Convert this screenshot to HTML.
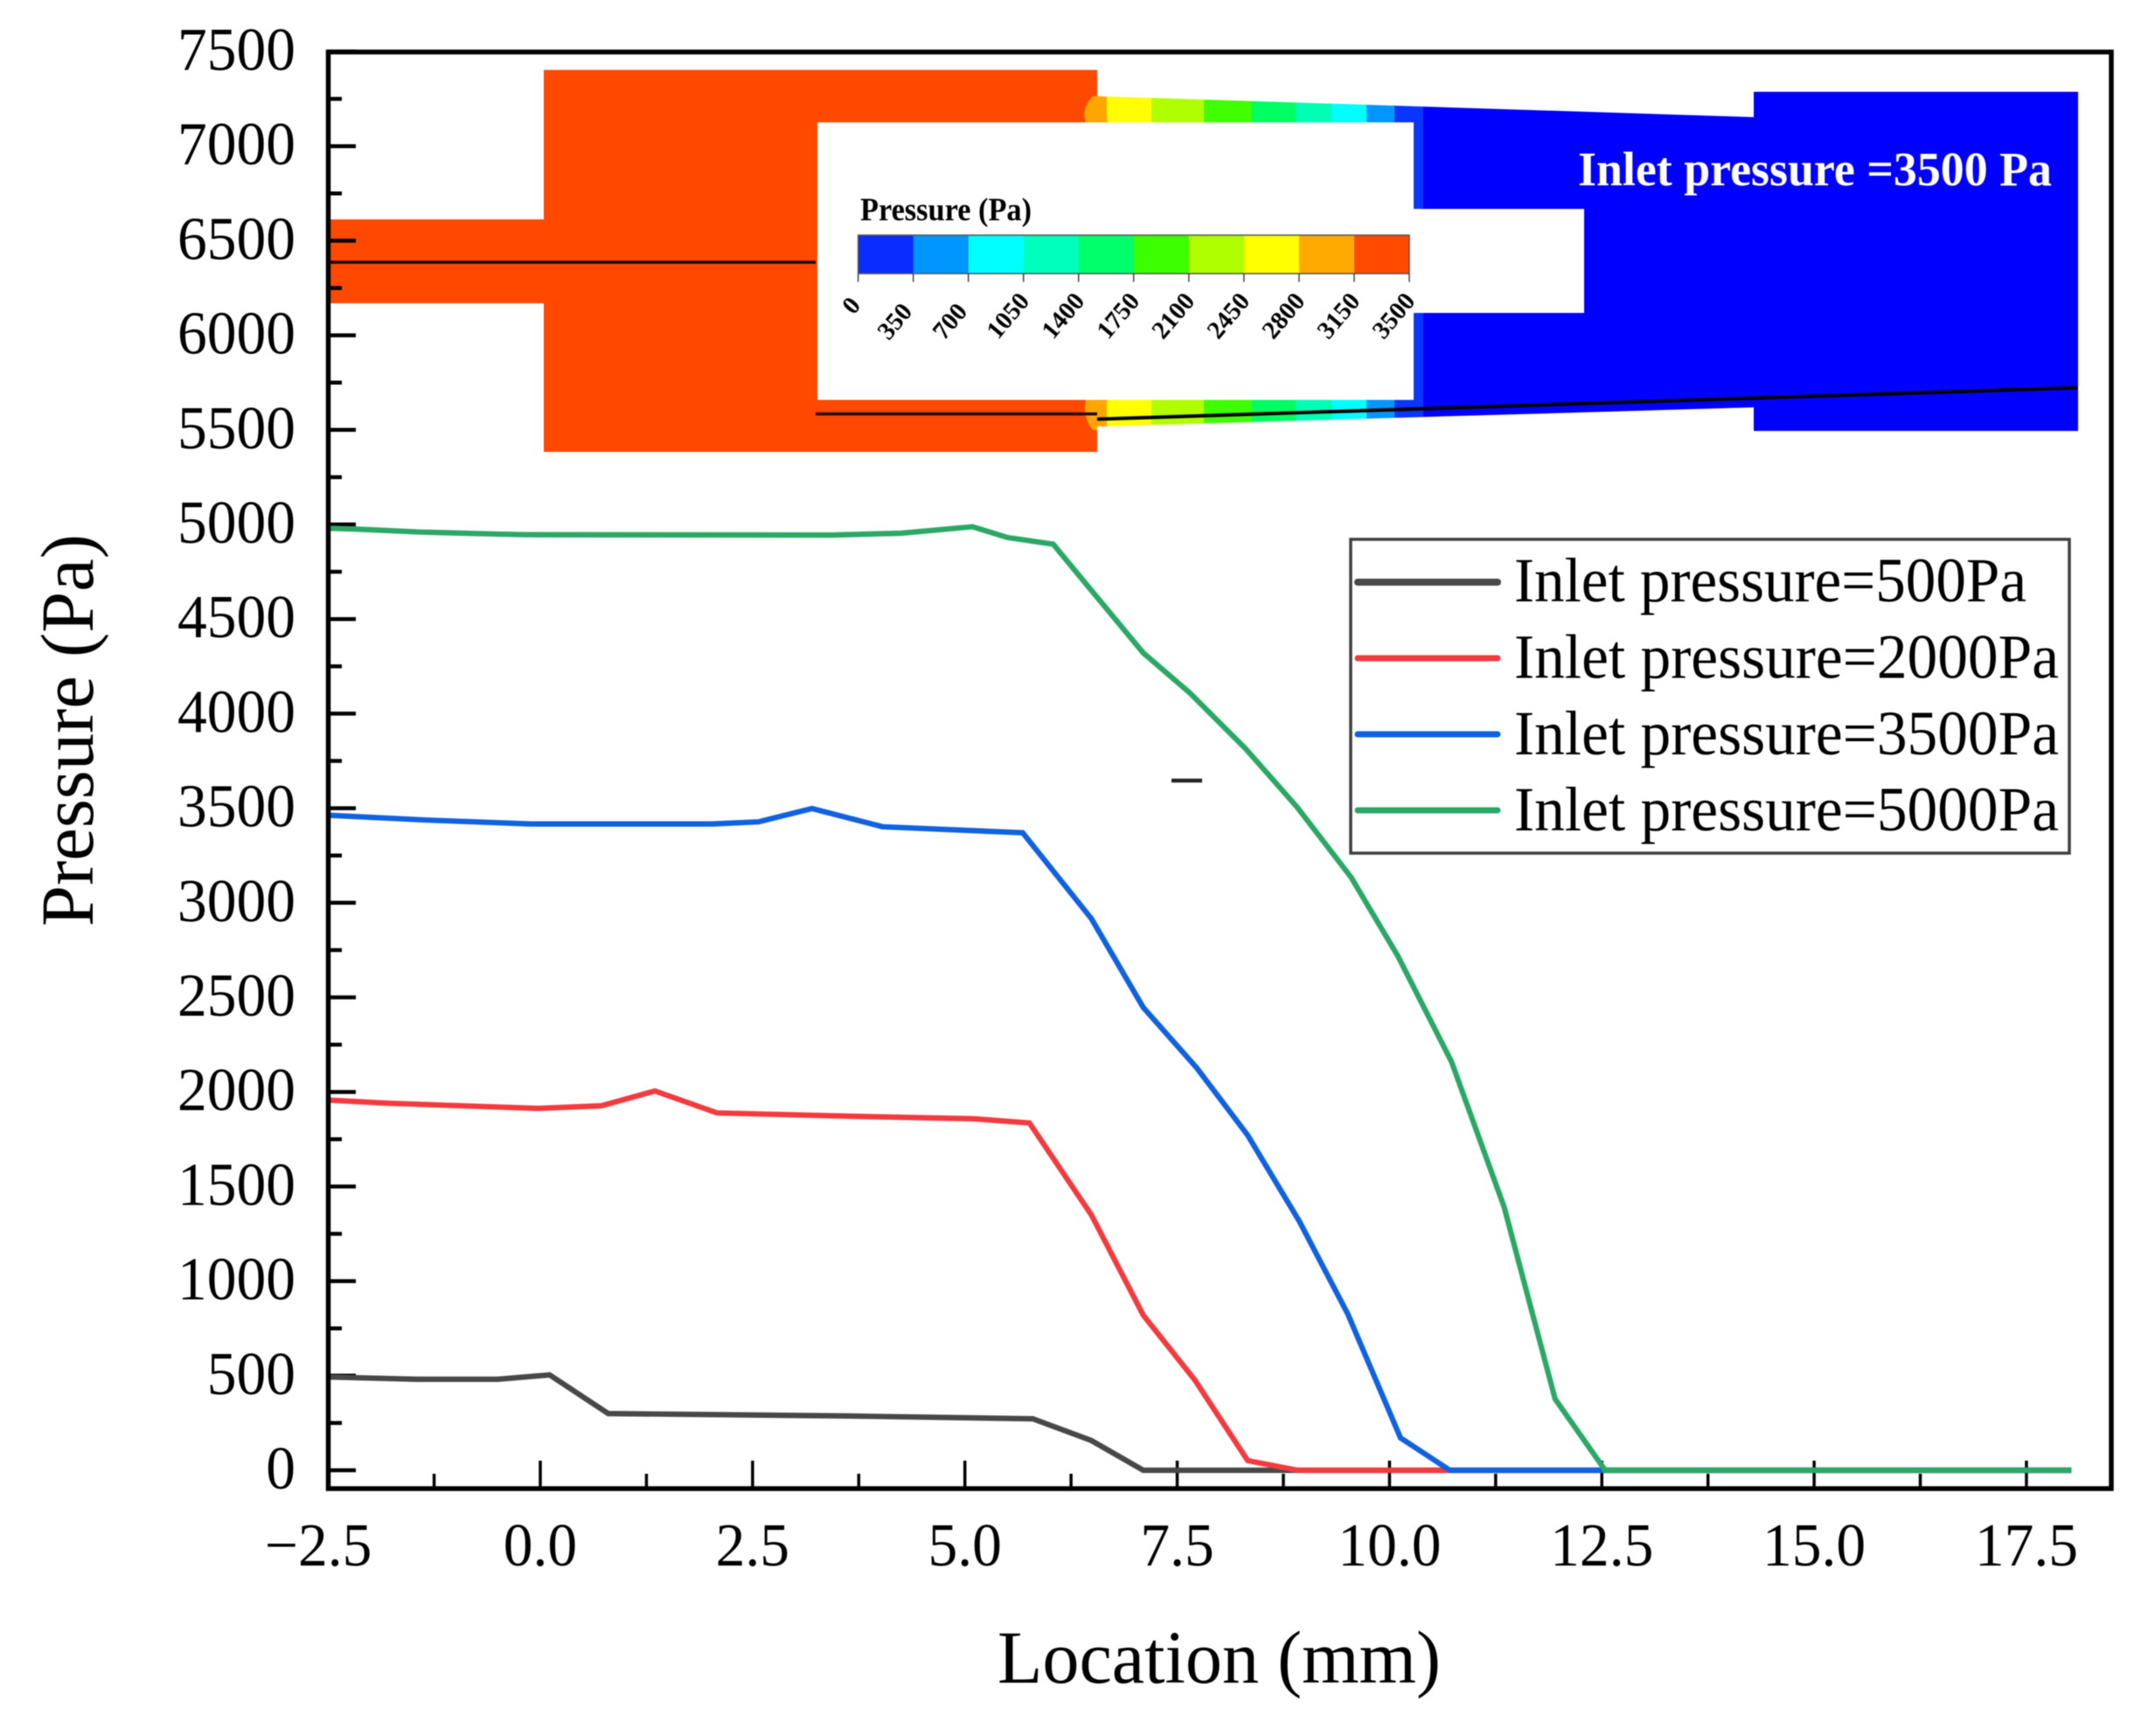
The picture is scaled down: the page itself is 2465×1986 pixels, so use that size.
<!DOCTYPE html>
<html lang="en">
<head>
<meta charset="utf-8">
<title>Pressure vs Location</title>
<style>
html,body{margin:0;padding:0;background:#fff}
svg{display:block}
text{font-family:"Liberation Serif",serif;fill:#000}
</style>
</head>
<body>
<svg id="chart" xmlns="http://www.w3.org/2000/svg" width="2465" height="1986" viewBox="0 0 2465 1986">
<defs>
<clipPath id="channel-clip"><polygon points="1254,110 2006,134 2006,466 1254,488"/></clipPath>
</defs>
<rect x="0" y="0" width="2465" height="1986" fill="#fff"/>
<g id="root" style="filter:blur(.6px)">
<g id="contour-inset">
<rect x="377" y="251" width="246" height="96" fill="#ff4800"/>
<rect x="622" y="80" width="633" height="437" fill="#ff4800"/>
<g clip-path="url(#channel-clip)">
<rect x="1254" y="100" width="14" height="400" fill="#ffa500"/>
<rect x="1266" y="100" width="52" height="400" fill="#ffff00"/>
<rect x="1317" y="100" width="61" height="400" fill="#b0ff00"/>
<rect x="1377" y="100" width="56" height="400" fill="#40ff00"/>
<rect x="1432" y="100" width="51" height="400" fill="#00ff60"/>
<rect x="1482" y="100" width="42" height="400" fill="#00ffb4"/>
<rect x="1523" y="100" width="41" height="400" fill="#00ffff"/>
<rect x="1563" y="100" width="33" height="400" fill="#0096ff"/>
<rect x="1595" y="100" width="34" height="400" fill="#0a34ff"/>
<rect x="1628" y="100" width="380" height="400" fill="#0000ff"/>
</g>
<path d="M1250,110 Q1236,125 1242,140 L1268,140 Q1258,125 1255,110 Z" fill="#ffa500"/>
<path d="M1242,457 Q1238,478 1250,492 L1255,492 L1255,478 Q1258,468 1268,457 Z" fill="#ffa500"/>
<rect x="2006" y="105" width="371" height="388" fill="#0000ff"/>
<rect x="935" y="140" width="682" height="317.5" fill="#fff"/>
<rect x="1617" y="239" width="195" height="119" fill="#fff"/>
<line x1="377" y1="300" x2="933" y2="300" stroke="#1a0a00" stroke-width="3.5"/>
<line x1="933" y1="473.5" x2="1255" y2="473.5" stroke="#1a0a00" stroke-width="3.5"/>
<line x1="1255" y1="479.5" x2="2377" y2="443.5" stroke="#000" stroke-width="4"/>
<text x="1805" y="212" font-size="55" font-weight="bold" textLength="542" lengthAdjust="spacingAndGlyphs" style="fill:#fff">Inlet pressure =3500 Pa</text>
<text x="984" y="252" font-size="37" font-weight="bold" textLength="196" lengthAdjust="spacingAndGlyphs">Pressure (Pa)</text>
<g id="colorbar"></g>
</g>
<g id="axes"></g>
<g id="series"></g>
<rect x="375.5" y="59.5" width="2039.5" height="1643.5" fill="none" stroke="#000" stroke-width="5.5"/>
<line x1="1340" y1="893" x2="1375" y2="893" stroke="#222" stroke-width="4.5"/>
<g>
<rect x="1545" y="617" width="822" height="359" fill="#fff" stroke="#404040" stroke-width="3.5"/>
<line x1="1553" y1="666" x2="1713" y2="666" stroke="#484848" stroke-width="8" stroke-linecap="round"/>
<text x="1732" y="688" font-size="72" textLength="586" lengthAdjust="spacingAndGlyphs">Inlet pressure=500Pa</text>
<line x1="1553" y1="753" x2="1713" y2="753" stroke="#f33b3f" stroke-width="7" stroke-linecap="round"/>
<text x="1732" y="775.5" font-size="72" textLength="623" lengthAdjust="spacingAndGlyphs">Inlet pressure=2000Pa</text>
<line x1="1553" y1="840" x2="1713" y2="840" stroke="#1062e0" stroke-width="7" stroke-linecap="round"/>
<text x="1732" y="863" font-size="72" textLength="623" lengthAdjust="spacingAndGlyphs">Inlet pressure=3500Pa</text>
<line x1="1553" y1="927" x2="1713" y2="927" stroke="#2ca866" stroke-width="7" stroke-linecap="round"/>
<text x="1732" y="950" font-size="72" textLength="623" lengthAdjust="spacingAndGlyphs">Inlet pressure=5000Pa</text>
</g>
<text x="1141" y="1925" font-size="86" textLength="507" lengthAdjust="spacingAndGlyphs">Location (mm)</text>
<text transform="translate(106,1060) rotate(-90)" x="0" y="0" font-size="86" textLength="449" lengthAdjust="spacingAndGlyphs">Pressure (Pa)</text>
</g>
</svg>
<script>
const xTickValues = [-2.5, 0, 2.5, 5, 7.5, 10, 12.5, 15, 17.5];
const xTickLabels = ['\u22122.5', '0.0', '2.5', '5.0', '7.5', '10.0', '12.5', '15.0', '17.5'];
const xMinorValues = [-1.25, 1.25, 3.75, 6.25, 8.75, 11.25, 13.75, 16.25];
const yTickValues = [0, 500, 1000, 1500, 2000, 2500, 3000, 3500, 4000, 4500, 5000, 5500, 6000, 6500, 7000, 7500];
const yMinorValues = [250, 750, 1250, 1750, 2250, 2750, 3250, 3750, 4250, 4750, 5250, 5750, 6250, 6750, 7250];

const grayX = [-2.5, -1.45, -0.5, 0.11, 0.8, 3.62, 5.8, 6.49, 7.1, 18.03];
const grayY = [493, 481, 481, 504, 300, 287, 272, 157, 0, 0];
const redX = [-2.5, -1.77, -0.03, 0.72, 1.35, 2.08, 3.62, 5.11, 5.76, 6.49, 7.1, 7.71, 8.33, 8.92, 18.03];
const redY = [1957, 1940, 1913, 1927, 2005, 1889, 1872, 1858, 1836, 1350, 820, 476, 51, 0, 0];
const blueX = [-2.5, -1.33, -0.11, 2.02, 2.57, 3.2, 4.03, 5.68, 6.49, 7.1, 7.73, 8.33, 8.94, 9.51, 10.13, 10.71, 18.03];
const blueY = [3463, 3437, 3417, 3417, 3428, 3498, 3402, 3370, 2916, 2447, 2127, 1771, 1315, 825, 171, 0, 0];
const greenX = [-2.5, -2.15, -1.41, -0.59, -0.18, 3.42, 4.25, 5.09, 5.5, 6.04, 6.53, 7.1, 7.65, 8.3, 8.91, 9.55, 10.1, 10.73, 11.35, 11.95, 12.54, 18.03];
const greenY = [4980, 4975, 4960, 4950, 4946, 4944, 4954, 4988, 4931, 4896, 4630, 4321, 4109, 3817, 3507, 3133, 2717, 2160, 1392, 377, 0, 0];

const colorbarTicks = ['0', '350', '700', '1050', '1400', '1750', '2100', '2450', '2800', '3150', '3500'];
const colorbarColors = ['#0a2cff', '#0096ff', '#00ffff', '#00ffbc', '#00ff6a', '#3cff00', '#b0ff00', '#ffff00', '#ffaa00', '#ff4a00'];

const NS = 'http://www.w3.org/2000/svg';
const xScale = v => 618 + 97.14 * v;
const yScale = v => 1682 - 0.2164 * v;
const cbScale = v => 981.6 + (v / 3500) * 630.4;
const axes = document.getElementById('axes');
const seriesLayer = document.getElementById('series');
const colorbar = document.getElementById('colorbar');

function make(tag, parent, attrs, content) {
  const el = document.createElementNS(NS, tag);
  for (const k in attrs) el.setAttribute(k, attrs[k]);
  if (content !== undefined) el.textContent = content;
  parent.appendChild(el);
  return el;
}

yTickValues.forEach(v => {
  const tick = make('line', axes, {x1: 375, y1: yScale(v), x2: 407, y2: yScale(v), stroke: '#000', 'stroke-width': 4.5});
  
  
  const label = make('text', axes, {transform: 'translate(338,' + (yScale(v) + 21) + ') scale(0.965,1)', 'font-size': 70, 'text-anchor': 'end'}, String(v));
  
  
});
yMinorValues.forEach(v => {
  const tick = make('line', axes, {x1: 375, y1: yScale(v), x2: 391, y2: yScale(v), stroke: '#000', 'stroke-width': 4.5});
  
  
});
xTickValues.forEach((v, i) => {
  const tick = make('line', axes, {x1: xScale(v), y1: 1703, x2: xScale(v), y2: 1671, stroke: '#000', 'stroke-width': 3.5});
  
  
  const shift = xTickLabels[i].charAt(0) === '\u2212' ? -11 : 0;
  const label = make('text', axes, {transform: 'translate(' + (xScale(v) + shift) + ',1791) scale(0.965,1)', 'font-size': 70, 'text-anchor': 'middle'}, xTickLabels[i]);
  
  
});
xMinorValues.forEach(v => {
  const tick = make('line', axes, {x1: xScale(v), y1: 1703, x2: xScale(v), y2: 1686, stroke: '#000', 'stroke-width': 3.5});
  
  
});

function drawSeries(xs, ys, color) {
  const pts = xs.map((x, i) => xScale(x).toFixed(1) + ',' + yScale(ys[i]).toFixed(1)).join(' ');
  return make('polyline', seriesLayer, {points: pts, fill: 'none', stroke: color, 'stroke-width': 6.2, 'stroke-linejoin': 'miter'});
}
const grayLine = drawSeries(grayX, grayY, '#484848');


const redLine = drawSeries(redX, redY, '#f33b3f');


const blueLine = drawSeries(blueX, blueY, '#1062e0');


const greenLine = drawSeries(greenX, greenY, '#2ca866');



colorbarColors.forEach((c, i) => {
  const x0 = cbScale(Number(colorbarTicks[i]));
  const x1 = cbScale(Number(colorbarTicks[i + 1]));
  const band = make('rect', colorbar, {x: x0, y: 269, width: x1 - x0 + 0.5, height: 44, fill: c});
  
  
});
const cbBox = make('rect', colorbar, {x: 981.6, y: 269, width: 630.4, height: 44, fill: 'none', stroke: '#555', 'stroke-width': 1.5});


colorbarTicks.forEach(t => {
  const x = cbScale(Number(t));
  const tick = make('line', colorbar, {x1: x, y1: 313, x2: x, y2: 322.5, stroke: '#444', 'stroke-width': 1.5});
  
  
  const dx = t.length === 4 ? 8 : (t.length === 3 ? 0 : 4);
  const by = t.length === 4 ? 345 : (t.length === 3 ? 357 : 350);
  const label = make('text', colorbar, {transform: 'translate(' + (x + dx) + ',' + by + ') rotate(-50)', 'font-size': 29, 'font-weight': 'bold', 'text-anchor': 'end'}, t);
  
  
});
</script>
</body>
</html>
